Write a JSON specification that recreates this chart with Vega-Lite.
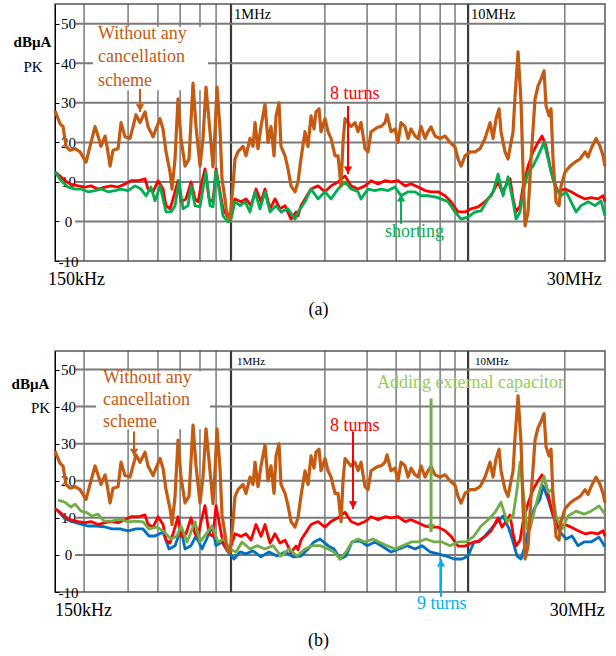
{
"$schema":"https://vega.github.io/schema/vega-lite/v6.json",
"background":"white",
"padding":{"left":10,"top":2,"right":5,"bottom":5},
"spacing":30,
"config":{"font":"Liberation Serif","text":{"font":"Liberation Serif"},"view":{"stroke":"#555555","strokeWidth":1.5},"axis":{"labelColor":"black","titleColor":"black","labelFont":"Liberation Serif","titleFont":"Liberation Serif"}},
"datasets":{
"vgrid":[{"f":0.24},{"f":0.368},{"f":0.492},{"f":0.61},{"f":0.74},{"f":0.865},{"f":1},{"f":2.49},{"f":3.75},{"f":4.97},{"f":6.27},{"f":7.62},{"f":8.81},{"f":10},{"f":25.6}],
"hgrid":[{"db":0},{"db":10},{"db":20},{"db":30},{"db":40},{"db":50}],
"brown":[{"f":0.1811,"db":28},{"f":0.1901,"db":24.7},{"f":0.1957,"db":24},{"f":0.2015,"db":19},{"f":0.2094,"db":18},{"f":0.2199,"db":18.4},{"f":0.2308,"db":17.6},{"f":0.2447,"db":15},{"f":0.2568,"db":20},{"f":0.267,"db":24},{"f":0.2749,"db":21.6},{"f":0.283,"db":19},{"f":0.2942,"db":21.6},{"f":0.3,"db":19},{"f":0.3089,"db":14},{"f":0.318,"db":18},{"f":0.3339,"db":18.4},{"f":0.3437,"db":25},{"f":0.3573,"db":21.4},{"f":0.3751,"db":21},{"f":0.3862,"db":24},{"f":0.3976,"db":27},{"f":0.4133,"db":25},{"f":0.4339,"db":27.7},{"f":0.4467,"db":24},{"f":0.469,"db":21.4},{"f":0.4828,"db":23.4},{"f":0.5019,"db":26},{"f":0.5168,"db":23.4},{"f":0.532,"db":17.6},{"f":0.5531,"db":12.5},{"f":0.564,"db":8.2},{"f":0.5807,"db":15.8},{"f":0.5978,"db":31},{"f":0.6154,"db":21},{"f":0.6398,"db":14},{"f":0.6652,"db":15.8},{"f":0.6916,"db":35},{"f":0.712,"db":24},{"f":0.7402,"db":14},{"f":0.762,"db":21},{"f":0.7845,"db":34},{"f":0.8156,"db":22.7},{"f":0.8397,"db":13.8},{"f":0.8562,"db":22.7},{"f":0.873,"db":34},{"f":0.8988,"db":23.4},{"f":0.9164,"db":10.8},{"f":0.9435,"db":5.7},{"f":0.962,"db":1.4},{"f":0.9904,"db":0.6},{"f":1.0197,"db":9},{"f":1.0397,"db":15.8},{"f":1.0704,"db":17.6},{"f":1.1237,"db":19},{"f":1.1569,"db":16.6},{"f":1.2027,"db":21},{"f":1.2384,"db":19},{"f":1.2627,"db":25},{"f":1.3,"db":18.4},{"f":1.3384,"db":24},{"f":1.3915,"db":29.7},{"f":1.4326,"db":20},{"f":1.475,"db":24},{"f":1.5187,"db":16.6},{"f":1.5485,"db":26.7},{"f":1.5943,"db":30},{"f":1.6255,"db":19},{"f":1.69,"db":16.6},{"f":1.74,"db":13.3},{"f":1.791,"db":9},{"f":1.8621,"db":7.5},{"f":1.9171,"db":10},{"f":1.974,"db":16},{"f":2.0524,"db":22.7},{"f":2.113,"db":19},{"f":2.175,"db":26.7},{"f":2.2394,"db":23.4},{"f":2.2833,"db":27.7},{"f":2.3509,"db":28.5},{"f":2.397,"db":22.7},{"f":2.4922,"db":26},{"f":2.5658,"db":22.7},{"f":2.642,"db":21},{"f":2.7469,"db":16.6},{"f":2.828,"db":16.6},{"f":2.911,"db":9},{"f":2.9683,"db":20},{"f":3.0266,"db":26},{"f":3.1159,"db":25},{"f":3.208,"db":24},{"f":3.3354,"db":25},{"f":3.4338,"db":22.7},{"f":3.535,"db":25},{"f":3.6754,"db":18.4},{"f":3.7839,"db":17.6},{"f":3.896,"db":22.7},{"f":4.0506,"db":23.4},{"f":4.1703,"db":23.9},{"f":4.293,"db":24},{"f":4.4635,"db":25},{"f":4.551,"db":27},{"f":4.731,"db":22.7},{"f":4.9189,"db":23.4},{"f":5.0641,"db":20},{"f":5.214,"db":25},{"f":5.421,"db":24},{"f":5.5811,"db":21},{"f":5.746,"db":23.4},{"f":5.9741,"db":21.6},{"f":6.1505,"db":21},{"f":6.332,"db":24},{"f":6.5834,"db":21},{"f":6.7778,"db":22.7},{"f":6.978,"db":23.9},{"f":7.255,"db":21.6},{"f":7.6158,"db":21},{"f":7.9953,"db":21.6},{"f":8.3929,"db":20},{"f":8.8104,"db":18.8},{"f":9.0706,"db":15.8},{"f":9.339,"db":14},{"f":9.7098,"db":16.6},{"f":10.193,"db":17.6},{"f":10.698,"db":17.6},{"f":11.231,"db":18.4},{"f":11.79,"db":21},{"f":12.377,"db":25},{"f":12.746,"db":21},{"f":13.123,"db":26},{"f":13.511,"db":28.5},{"f":13.77,"db":22.7},{"f":14.317,"db":17.6},{"f":14.74,"db":15.8},{"f":15.18,"db":20},{"f":15.479,"db":22.7},{"f":15.783,"db":31.8},{"f":16.249,"db":42.9},{"f":16.73,"db":30},{"f":17.06,"db":12.5},{"f":17.394,"db":-1.1},{"f":17.908,"db":2.4},{"f":18.43,"db":15.8},{"f":19.162,"db":31},{"f":19.727,"db":34.3},{"f":20.31,"db":36},{"f":20.911,"db":38.1},{"f":21.321,"db":29.2},{"f":21.953,"db":26.7},{"f":22.38,"db":28.5},{"f":22.821,"db":15.8},{"f":23.495,"db":5},{"f":24.191,"db":4},{"f":24.67,"db":9},{"f":25.65,"db":12.5},{"f":26.925,"db":14},{"f":28.259,"db":15},{"f":29.664,"db":15.8},{"f":31.149,"db":17.6},{"f":32.069,"db":16.3},{"f":33.01,"db":18.4},{"f":34.654,"db":21},{"f":36.027,"db":19},{"f":37.097,"db":16.6},{"f":37.8,"db":14}],
"red":[{"f":0.1811,"db":12.5},{"f":0.1901,"db":11.5},{"f":0.1995,"db":10.3},{"f":0.2094,"db":9.5},{"f":0.2264,"db":9},{"f":0.2424,"db":8.7},{"f":0.2568,"db":9},{"f":0.2749,"db":8.2},{"f":0.2942,"db":8.7},{"f":0.3119,"db":9},{"f":0.3339,"db":8.7},{"f":0.3573,"db":9.5},{"f":0.3787,"db":10.3},{"f":0.4054,"db":10.3},{"f":0.4339,"db":10.8},{"f":0.4467,"db":8.2},{"f":0.469,"db":7.5},{"f":0.4923,"db":10.3},{"f":0.5168,"db":8.2},{"f":0.532,"db":4},{"f":0.5531,"db":3.2},{"f":0.5695,"db":5.7},{"f":0.5978,"db":10.3},{"f":0.6154,"db":5},{"f":0.6461,"db":5.7},{"f":0.6782,"db":10},{"f":0.7051,"db":5.7},{"f":0.7259,"db":5},{"f":0.7473,"db":9},{"f":0.777,"db":13.3},{"f":0.8078,"db":5.7},{"f":0.8397,"db":5},{"f":0.8645,"db":13.3},{"f":0.8988,"db":7.5},{"f":0.9254,"db":3.2},{"f":0.962,"db":1.4},{"f":1.0,"db":2.4},{"f":1.0397,"db":5.7},{"f":1.102,"db":5},{"f":1.1569,"db":5.7},{"f":1.2145,"db":4},{"f":1.275,"db":8.2},{"f":1.3384,"db":5},{"f":1.3915,"db":8.2},{"f":1.4607,"db":3.2},{"f":1.5336,"db":5.7},{"f":1.6098,"db":3.2},{"f":1.69,"db":4},{"f":1.791,"db":0.6},{"f":1.8802,"db":2.4},{"f":1.9171,"db":1.4},{"f":1.974,"db":4},{"f":2.0524,"db":5.7},{"f":2.175,"db":8.2},{"f":2.3281,"db":9},{"f":2.4922,"db":7.5},{"f":2.642,"db":9},{"f":2.828,"db":10},{"f":3.0266,"db":11.5},{"f":3.208,"db":9},{"f":3.4338,"db":8.2},{"f":3.6754,"db":9},{"f":3.896,"db":10.3},{"f":4.1703,"db":9.5},{"f":4.4635,"db":10.3},{"f":4.731,"db":10},{"f":5.0641,"db":10.3},{"f":5.421,"db":9},{"f":5.746,"db":9.5},{"f":6.1505,"db":8.7},{"f":6.5834,"db":7.8},{"f":6.978,"db":7.5},{"f":7.4693,"db":7.5},{"f":7.9953,"db":6.5},{"f":8.474,"db":5},{"f":9.0706,"db":2.4},{"f":9.7098,"db":2.4},{"f":10.29,"db":3.2},{"f":11.015,"db":3.7},{"f":11.79,"db":5},{"f":12.5,"db":6.5},{"f":13.38,"db":10},{"f":13.905,"db":7.5},{"f":14.456,"db":9},{"f":15.029,"db":10.8},{"f":15.479,"db":5.7},{"f":15.936,"db":2.4},{"f":16.568,"db":4},{"f":17.06,"db":9},{"f":17.908,"db":14},{"f":18.793,"db":17.6},{"f":19.727,"db":20},{"f":20.509,"db":21.6},{"f":21.321,"db":19},{"f":22.167,"db":14},{"f":22.821,"db":10.8},{"f":23.956,"db":7.5},{"f":25.65,"db":8.2},{"f":27.18,"db":7.5},{"f":29.094,"db":6.5},{"f":31.149,"db":5.7},{"f":33.01,"db":6},{"f":35.333,"db":5.7},{"f":37.097,"db":6.5},{"f":37.8,"db":5}],
"green":[{"f":0.1811,"db":12.5},{"f":0.1919,"db":10.3},{"f":0.2054,"db":8.7},{"f":0.2199,"db":8.2},{"f":0.2331,"db":8.2},{"f":0.2495,"db":7.5},{"f":0.267,"db":7.8},{"f":0.283,"db":8.2},{"f":0.3029,"db":7.5},{"f":0.3243,"db":7.8},{"f":0.3437,"db":8.2},{"f":0.3679,"db":7.8},{"f":0.3937,"db":9},{"f":0.4173,"db":8.2},{"f":0.4381,"db":6.5},{"f":0.4599,"db":8.7},{"f":0.4782,"db":5.2},{"f":0.5019,"db":9},{"f":0.5168,"db":5.7},{"f":0.532,"db":2.4},{"f":0.5585,"db":2.4},{"f":0.5807,"db":4},{"f":0.6037,"db":10.3},{"f":0.6275,"db":3.2},{"f":0.6587,"db":4},{"f":0.6782,"db":9},{"f":0.7051,"db":4},{"f":0.7402,"db":3.7},{"f":0.762,"db":8.2},{"f":0.7845,"db":12.5},{"f":0.8156,"db":4},{"f":0.8397,"db":3.7},{"f":0.8645,"db":12.8},{"f":0.8988,"db":6.5},{"f":0.9254,"db":1.4},{"f":0.9714,"db":-0.1},{"f":1.0,"db":0.6},{"f":1.0397,"db":5},{"f":1.0914,"db":4},{"f":1.1458,"db":5},{"f":1.2027,"db":2.4},{"f":1.2627,"db":7.5},{"f":1.3255,"db":3.2},{"f":1.3915,"db":7.5},{"f":1.4607,"db":2.4},{"f":1.5485,"db":4},{"f":1.6255,"db":2.4},{"f":1.74,"db":3.2},{"f":1.8621,"db":0.6},{"f":1.9171,"db":2.4},{"f":2.0524,"db":5},{"f":2.175,"db":8.2},{"f":2.3281,"db":5.7},{"f":2.4922,"db":7.5},{"f":2.642,"db":5.7},{"f":2.828,"db":8.2},{"f":3.0266,"db":10},{"f":3.208,"db":8.2},{"f":3.4338,"db":7.5},{"f":3.535,"db":5.7},{"f":3.7839,"db":8.2},{"f":4.0506,"db":7.8},{"f":4.293,"db":8.2},{"f":4.5953,"db":7.8},{"f":4.9189,"db":8.7},{"f":5.214,"db":6.5},{"f":5.5811,"db":7.5},{"f":5.9741,"db":7.5},{"f":6.332,"db":6.5},{"f":6.7778,"db":6.5},{"f":7.255,"db":6.2},{"f":7.69,"db":5.7},{"f":8.2314,"db":5},{"f":8.8104,"db":2.4},{"f":9.339,"db":0.6},{"f":9.9966,"db":1.1},{"f":10.698,"db":2.4},{"f":11.34,"db":2.7},{"f":12.139,"db":5.7},{"f":12.746,"db":7.5},{"f":13.38,"db":12},{"f":14.041,"db":6.5},{"f":14.74,"db":11.3},{"f":15.479,"db":5},{"f":15.936,"db":0.6},{"f":16.568,"db":2.4},{"f":17.06,"db":7.5},{"f":17.908,"db":12.5},{"f":18.793,"db":14},{"f":19.727,"db":16.6},{"f":20.911,"db":20},{"f":21.74,"db":15.8},{"f":22.38,"db":12.5},{"f":23.495,"db":8.2},{"f":24.67,"db":6.5},{"f":25.899,"db":7.5},{"f":27.18,"db":5},{"f":28.534,"db":2.4},{"f":29.96,"db":4},{"f":32.069,"db":5},{"f":34.321,"db":4},{"f":36.38,"db":5.2},{"f":37.8,"db":1.4}],
"blue":[{"f":0.1865,"db":11.8},{"f":0.1995,"db":9.7},{"f":0.2157,"db":8.9},{"f":0.2331,"db":8.3},{"f":0.2495,"db":7.8},{"f":0.2696,"db":7.8},{"f":0.2914,"db":7.6},{"f":0.3149,"db":7},{"f":0.3404,"db":7},{"f":0.3679,"db":6.5},{"f":0.3976,"db":7},{"f":0.4255,"db":7},{"f":0.4511,"db":5.1},{"f":0.4782,"db":5.1},{"f":0.5168,"db":6.2},{"f":0.5478,"db":1.6},{"f":0.5807,"db":2.5},{"f":0.6154,"db":7},{"f":0.6398,"db":1.6},{"f":0.6782,"db":2.5},{"f":0.712,"db":5.1},{"f":0.7546,"db":1.6},{"f":0.7999,"db":5.1},{"f":0.8316,"db":7.8},{"f":0.8645,"db":2.5},{"f":0.9164,"db":3.5},{"f":0.9714,"db":0.8},{"f":1.0296,"db":-1.1},{"f":1.0914,"db":0.8},{"f":1.1569,"db":0.3},{"f":1.2384,"db":1.1},{"f":1.3384,"db":-0.5},{"f":1.4467,"db":0.8},{"f":1.5636,"db":-0.3},{"f":1.69,"db":0.8},{"f":1.8263,"db":-0.5},{"f":1.974,"db":-0.3},{"f":2.113,"db":1.6},{"f":2.2394,"db":3.5},{"f":2.3738,"db":4.3},{"f":2.5658,"db":2.5},{"f":2.7202,"db":1.6},{"f":2.8835,"db":-1.1},{"f":3.056,"db":-0.3},{"f":3.2394,"db":3.5},{"f":3.5012,"db":3.8},{"f":3.7474,"db":2.5},{"f":4.0506,"db":3.5},{"f":4.3776,"db":2.2},{"f":4.731,"db":0.8},{"f":5.1138,"db":1.6},{"f":5.5273,"db":2.5},{"f":5.9741,"db":1.6},{"f":6.394,"db":2.5},{"f":6.9108,"db":0.8},{"f":7.4693,"db":0.3},{"f":8.0729,"db":-0.3},{"f":8.7248,"db":-1.1},{"f":9.4305,"db":-1.1},{"f":9.9966,"db":-0.3},{"f":10.595,"db":3.5},{"f":11.122,"db":3.5},{"f":11.79,"db":5.1},{"f":12.5,"db":7},{"f":13.251,"db":8.9},{"f":14.041,"db":10.5},{"f":14.884,"db":7},{"f":15.479,"db":3.5},{"f":16.093,"db":-0.3},{"f":16.73,"db":-1.1},{"f":17.394,"db":2.5},{"f":18.084,"db":7.8},{"f":18.976,"db":12.4},{"f":20.115,"db":15.1},{"f":20.71,"db":18.6},{"f":21.74,"db":15.1},{"f":23.043,"db":9.7},{"f":24.426,"db":6.2},{"f":25.899,"db":4.3},{"f":27.446,"db":5.1},{"f":29.094,"db":2.5},{"f":30.847,"db":3.5},{"f":33.01,"db":3.5},{"f":35.681,"db":4.8},{"f":37.8,"db":2.2}],
"lgreen":[{"f":0.1865,"db":14.8},{"f":0.1995,"db":14.2},{"f":0.2115,"db":12.9},{"f":0.2199,"db":13.7},{"f":0.2331,"db":11.8},{"f":0.2447,"db":11.5},{"f":0.2593,"db":10.5},{"f":0.2749,"db":11},{"f":0.2914,"db":9.1},{"f":0.3149,"db":9.1},{"f":0.3404,"db":9.7},{"f":0.3679,"db":8.9},{"f":0.3976,"db":9.1},{"f":0.4255,"db":8.9},{"f":0.4511,"db":7},{"f":0.4875,"db":7.5},{"f":0.5168,"db":6.5},{"f":0.5585,"db":4.3},{"f":0.5921,"db":5.1},{"f":0.6154,"db":7.8},{"f":0.6524,"db":3.5},{"f":0.7051,"db":8.9},{"f":0.7402,"db":3.5},{"f":0.7845,"db":5.6},{"f":0.8316,"db":7.8},{"f":0.8815,"db":3.5},{"f":0.9344,"db":4.3},{"f":0.9904,"db":1.6},{"f":1.0498,"db":0.8},{"f":1.1128,"db":3.5},{"f":1.2027,"db":1.6},{"f":1.2875,"db":2.5},{"f":1.3915,"db":1.6},{"f":1.5041,"db":2.5},{"f":1.6255,"db":-0.3},{"f":1.757,"db":1.6},{"f":1.8986,"db":-0.3},{"f":2.0524,"db":1.6},{"f":2.1963,"db":2.5},{"f":2.3738,"db":2.5},{"f":2.5658,"db":1.6},{"f":2.7202,"db":0.8},{"f":2.8835,"db":-1.1},{"f":3.056,"db":0.8},{"f":3.2394,"db":3.5},{"f":3.4338,"db":4.3},{"f":3.6754,"db":3.5},{"f":3.9727,"db":4.3},{"f":4.2113,"db":3.5},{"f":4.551,"db":2.5},{"f":4.9189,"db":1.6},{"f":5.3167,"db":2.5},{"f":5.746,"db":3.5},{"f":6.1505,"db":3.5},{"f":6.6474,"db":4.3},{"f":7.1845,"db":3.5},{"f":7.7651,"db":3.5},{"f":8.3929,"db":2.5},{"f":9.0706,"db":3.5},{"f":9.8043,"db":3.5},{"f":10.595,"db":5.1},{"f":11.34,"db":7.8},{"f":12.257,"db":9.7},{"f":12.996,"db":11.5},{"f":13.77,"db":14.2},{"f":14.597,"db":8.9},{"f":15.479,"db":10.5},{"f":16.093,"db":17.7},{"f":16.568,"db":25},{"f":17.06,"db":17.7},{"f":17.735,"db":7},{"f":18.259,"db":7},{"f":18.976,"db":11.5},{"f":20.115,"db":17.7},{"f":20.911,"db":21.2},{"f":21.74,"db":16.9},{"f":22.599,"db":17.7},{"f":23.495,"db":10.5},{"f":24.911,"db":7},{"f":26.406,"db":10.5},{"f":28.534,"db":11.8},{"f":30.847,"db":11},{"f":33.01,"db":11.8},{"f":35.681,"db":13.2},{"f":37.8,"db":11}],
"notesA":[{"t":"Without any","f":0.2749,"db":47.5,"who":"brown","kind":"big"},{"t":"cancellation","f":0.2749,"db":41.6,"who":"brown","kind":"big"},{"t":"scheme","f":0.2749,"db":35.6,"who":"brown","kind":"big"},{"t":"8 turns","f":2.616,"db":32.3,"who":"red","kind":"big"},{"t":"shorting","f":4.4635,"db":-2.7,"who":"green","kind":"big"},{"t":"PK","f":0.1463,"db":39.1,"who":"black","kind":"pk"},{"t":"1MHz","f":1.0296,"db":52.3,"who":"black","kind":"mhz"},{"t":"10MHz","f":10.29,"db":52.3,"who":"black","kind":"mhz"}],
"notesB":[{"t":"Without any","f":0.2886,"db":47.6,"who":"brown","kind":"big"},{"t":"cancellation","f":0.2886,"db":41.7,"who":"brown","kind":"big"},{"t":"scheme","f":0.2886,"db":35.8,"who":"brown","kind":"big"},{"t":"Adding external capacitor","f":4.13,"db":46.5,"who":"lime","kind":"big"},{"t":"8 turns","f":2.616,"db":34.7,"who":"red","kind":"big"},{"t":"9 turns","f":6.09,"db":-13.2,"who":"blue","kind":"big"},{"t":"PK","f":0.1573,"db":39.5,"who":"black","kind":"pk"},{"t":"1MHz","f":1.0601,"db":51.9,"who":"black","kind":"mhz"},{"t":"10MHz","f":10.698,"db":51.9,"who":"black","kind":"mhz"}],
"arrowsA":[{"f":0.4133,"from":33.5,"to":27.7,"who":"brown"},{"f":3.1159,"from":29.2,"to":12.0,"who":"red"},{"f":5.214,"from":-0.6,"to":7.0,"who":"green"}],
"arrowsB":[{"f":0.3899,"from":33.3,"to":26.6,"who":"brown"},{"f":3.271,"from":33.3,"to":12.4,"who":"red"},{"f":6.978,"from":42.2,"to":6.2,"who":"lgreen"},{"f":7.69,"from":-11.3,"to":-1.1,"who":"blue"}]
},
"vconcat":[
{"width":550,"height":257,
"layer":[
{"data":{"name":"vgrid"},"mark":{"type":"rule","color":"#3a3a3a"},"encoding":{"x":{"field":"f","type":"quantitative","scale":{"type":"log","domain":[0.181,37.8],"nice":false},"axis":{"values":[0.2219,27.9],"labelExpr":"datum.value < 1 ? '150kHz' : '30MHz'","ticks":false,"domain":false,"grid":false,"labelFontSize":18,"labelPadding":9,"labelFlush":false,"labelOverlap":false,"title":"(a)","titleFontSize":18,"titleFontWeight":"normal","titlePadding":12,"titleX":263}},"strokeWidth":{"condition":{"test":"datum.f==1||datum.f==10","value":2.2},"value":1}}},
{"data":{"name":"hgrid"},"mark":{"type":"rule","color":"#7a7a7a","strokeWidth":2},"encoding":{"y":{"field":"db","type":"quantitative","scale":{"domain":[-10,55],"nice":false,"zero":false},"axis":{"values":[-10,0,10,20,30,40,50],"labelExpr":"'' + datum.value","grid":false,"domain":true,"domainColor":"black","domainWidth":1,"ticks":true,"tickSize":-4,"tickColor":"black","labelAlign":"center","labelBaseline":"middle","labelPadding":-9,"labelFontSize":15,"title":"dBµA","titleAngle":0,"titleFontWeight":"bold","titleFontSize":15,"titleX":-23,"titleY":37,"titleAlign":"center","titleBaseline":"middle"}},"x":{"datum":0.22,"type":"quantitative","scale":{"type":"log","domain":[0.181,37.8],"nice":false}},"x2":{"datum":37.8}}},
{"data":{"values":[{}]},"mark":{"type":"rect","color":"white"},"encoding":{"x":{"datum":0.262,"type":"quantitative","scale":{"type":"log","domain":[0.181,37.8],"nice":false}},"x2":{"datum":0.80},"y":{"datum":49.2,"type":"quantitative","scale":{"domain":[-10,55],"nice":false,"zero":false}},"y2":{"datum":33.2}}},
{"data":{"name":"red"},"mark":{"type":"line","color":"#FF0000","strokeWidth":2.8,"strokeJoin":"round"},"encoding":{"x":{"field":"f","type":"quantitative","scale":{"type":"log","domain":[0.181,37.8],"nice":false}},"y":{"field":"db","type":"quantitative","scale":{"domain":[-10,55],"nice":false,"zero":false}}}},
{"data":{"name":"green"},"mark":{"type":"line","color":"#00B050","strokeWidth":2.8,"strokeJoin":"round"},"encoding":{"x":{"field":"f","type":"quantitative","scale":{"type":"log","domain":[0.181,37.8],"nice":false}},"y":{"field":"db","type":"quantitative","scale":{"domain":[-10,55],"nice":false,"zero":false}}}},
{"data":{"name":"brown"},"mark":{"type":"line","color":"#C55A11","strokeWidth":3.2,"strokeJoin":"round"},"encoding":{"x":{"field":"f","type":"quantitative","scale":{"type":"log","domain":[0.181,37.8],"nice":false}},"y":{"field":"db","type":"quantitative","scale":{"domain":[-10,55],"nice":false,"zero":false}}}},
{"data":{"name":"arrowsA"},"mark":{"type":"rule","strokeWidth":2},"encoding":{"x":{"field":"f","type":"quantitative","scale":{"type":"log","domain":[0.181,37.8],"nice":false}},"y":{"field":"from","type":"quantitative","scale":{"domain":[-10,55],"nice":false,"zero":false}},"y2":{"field":"to"},"color":{"field":"who","type":"nominal","scale":{"domain":["brown","red","green","blue","lime","lgreen","black"],"range":["#C55A11","#FF0000","#00B050","#00B0F0","#92D050","#70AD47","#000000"]},"legend":null}}},
{"data":{"name":"arrowsA"},"transform":[{"filter":"datum.to < datum.from"}],"mark":{"type":"point","shape":"triangle-down","filled":true,"size":70,"opacity":1,"yOffset":-4},"encoding":{"x":{"field":"f","type":"quantitative","scale":{"type":"log","domain":[0.181,37.8],"nice":false}},"y":{"field":"to","type":"quantitative","scale":{"domain":[-10,55],"nice":false,"zero":false}},"color":{"field":"who","type":"nominal","scale":{"domain":["brown","red","green","blue","lime","lgreen","black"],"range":["#C55A11","#FF0000","#00B050","#00B0F0","#92D050","#70AD47","#000000"]},"legend":null}}},
{"data":{"name":"arrowsA"},"transform":[{"filter":"datum.to > datum.from"}],"mark":{"type":"point","shape":"triangle-up","filled":true,"size":70,"opacity":1,"yOffset":4},"encoding":{"x":{"field":"f","type":"quantitative","scale":{"type":"log","domain":[0.181,37.8],"nice":false}},"y":{"field":"to","type":"quantitative","scale":{"domain":[-10,55],"nice":false,"zero":false}},"color":{"field":"who","type":"nominal","scale":{"domain":["brown","red","green","blue","lime","lgreen","black"],"range":["#C55A11","#FF0000","#00B050","#00B0F0","#92D050","#70AD47","#000000"]},"legend":null}}},
{"data":{"name":"notesA"},"transform":[{"filter":"datum.kind == 'big'"}],"mark":{"type":"text","align":"left","baseline":"middle","fontSize":18,"font":"Liberation Serif"},"encoding":{"x":{"field":"f","type":"quantitative","scale":{"type":"log","domain":[0.181,37.8],"nice":false}},"y":{"field":"db","type":"quantitative","scale":{"domain":[-10,55],"nice":false,"zero":false}},"text":{"field":"t"},"color":{"field":"who","type":"nominal","scale":{"domain":["brown","red","green","blue","lime","lgreen","black"],"range":["#C55A11","#FF0000","#00B050","#00B0F0","#92D050","#70AD47","#000000"]},"legend":null}}},
{"data":{"name":"notesA"},"transform":[{"filter":"datum.kind == 'pk'"}],"mark":{"type":"text","align":"center","baseline":"middle","fontSize":15,"color":"black","font":"Liberation Serif"},"encoding":{"x":{"field":"f","type":"quantitative","scale":{"type":"log","domain":[0.181,37.8],"nice":false}},"y":{"field":"db","type":"quantitative","scale":{"domain":[-10,55],"nice":false,"zero":false}},"text":{"field":"t"}}},
{"data":{"name":"notesA"},"transform":[{"filter":"datum.kind == 'mhz'"}],"mark":{"type":"text","align":"left","baseline":"middle","fontSize":14.5,"color":"black","font":"Liberation Serif"},"encoding":{"x":{"field":"f","type":"quantitative","scale":{"type":"log","domain":[0.181,37.8],"nice":false}},"y":{"field":"db","type":"quantitative","scale":{"domain":[-10,55],"nice":false,"zero":false}},"text":{"field":"t"}}}
]},
{"width":550,"height":241,
"layer":[
{"data":{"name":"vgrid"},"mark":{"type":"rule","color":"#3a3a3a"},"encoding":{"x":{"field":"f","type":"quantitative","scale":{"type":"log","domain":[0.181,37.8],"nice":false},"axis":{"values":[0.2376,28.7],"labelExpr":"datum.value < 1 ? '150kHz' : '30MHz'","ticks":false,"domain":false,"grid":false,"labelFontSize":18,"labelPadding":9,"labelFlush":false,"labelOverlap":false,"title":"(b)","titleFontSize":18,"titleFontWeight":"normal","titlePadding":12,"titleX":263}},"strokeWidth":{"condition":{"test":"datum.f==1||datum.f==10","value":2.2},"value":1}}},
{"data":{"name":"hgrid"},"mark":{"type":"rule","color":"#7a7a7a","strokeWidth":2},"encoding":{"y":{"field":"db","type":"quantitative","scale":{"domain":[-10,55],"nice":false,"zero":false},"axis":{"values":[-10,0,10,20,30,40,50],"labelExpr":"'' + datum.value","grid":false,"domain":true,"domainColor":"black","domainWidth":1,"ticks":true,"tickSize":-4,"tickColor":"black","labelAlign":"center","labelBaseline":"middle","labelPadding":-9,"labelFontSize":15,"title":"dBµA","titleAngle":0,"titleFontWeight":"bold","titleFontSize":15,"titleX":-25,"titleY":32,"titleAlign":"center","titleBaseline":"middle"}},"x":{"datum":0.22,"type":"quantitative","scale":{"type":"log","domain":[0.181,37.8],"nice":false}},"x2":{"datum":37.8}}},
{"data":{"values":[{}]},"mark":{"type":"rect","color":"white"},"encoding":{"x":{"datum":0.2696,"type":"quantitative","scale":{"type":"log","domain":[0.181,37.8],"nice":false}},"x2":{"datum":0.8156},"y":{"datum":49.5,"type":"quantitative","scale":{"domain":[-10,55],"nice":false,"zero":false}},"y2":{"datum":33.9}}},
{"data":{"name":"blue"},"mark":{"type":"line","color":"#0070C0","strokeWidth":2.8,"strokeJoin":"round"},"encoding":{"x":{"field":"f","type":"quantitative","scale":{"type":"log","domain":[0.181,37.8],"nice":false}},"y":{"field":"db","type":"quantitative","scale":{"domain":[-10,55],"nice":false,"zero":false}}}},
{"data":{"name":"red"},"mark":{"type":"line","color":"#FF0000","strokeWidth":2.8,"strokeJoin":"round"},"encoding":{"x":{"field":"f","type":"quantitative","scale":{"type":"log","domain":[0.181,37.8],"nice":false}},"y":{"field":"db","type":"quantitative","scale":{"domain":[-10,55],"nice":false,"zero":false}}}},
{"data":{"name":"lgreen"},"mark":{"type":"line","color":"#70AD47","strokeWidth":2.8,"strokeJoin":"round"},"encoding":{"x":{"field":"f","type":"quantitative","scale":{"type":"log","domain":[0.181,37.8],"nice":false}},"y":{"field":"db","type":"quantitative","scale":{"domain":[-10,55],"nice":false,"zero":false}}}},
{"data":{"name":"brown"},"mark":{"type":"line","color":"#C55A11","strokeWidth":3.2,"strokeJoin":"round"},"encoding":{"x":{"field":"f","type":"quantitative","scale":{"type":"log","domain":[0.181,37.8],"nice":false}},"y":{"field":"db","type":"quantitative","scale":{"domain":[-10,55],"nice":false,"zero":false}}}},
{"data":{"name":"arrowsB"},"mark":{"type":"rule"},"encoding":{"x":{"field":"f","type":"quantitative","scale":{"type":"log","domain":[0.181,37.8],"nice":false}},"y":{"field":"from","type":"quantitative","scale":{"domain":[-10,55],"nice":false,"zero":false}},"y2":{"field":"to"},"strokeWidth":{"condition":{"test":"datum.who=='lgreen'","value":3},"value":2},"color":{"field":"who","type":"nominal","scale":{"domain":["brown","red","green","blue","lime","lgreen","black"],"range":["#C55A11","#FF0000","#00B050","#00B0F0","#92D050","#70AD47","#000000"]},"legend":null}}},
{"data":{"name":"arrowsB"},"transform":[{"filter":"datum.to < datum.from"}],"mark":{"type":"point","shape":"triangle-down","filled":true,"size":70,"opacity":1,"yOffset":-4},"encoding":{"x":{"field":"f","type":"quantitative","scale":{"type":"log","domain":[0.181,37.8],"nice":false}},"y":{"field":"to","type":"quantitative","scale":{"domain":[-10,55],"nice":false,"zero":false}},"color":{"field":"who","type":"nominal","scale":{"domain":["brown","red","green","blue","lime","lgreen","black"],"range":["#C55A11","#FF0000","#00B050","#00B0F0","#92D050","#70AD47","#000000"]},"legend":null}}},
{"data":{"name":"arrowsB"},"transform":[{"filter":"datum.to > datum.from"}],"mark":{"type":"point","shape":"triangle-up","filled":true,"size":70,"opacity":1,"yOffset":4},"encoding":{"x":{"field":"f","type":"quantitative","scale":{"type":"log","domain":[0.181,37.8],"nice":false}},"y":{"field":"to","type":"quantitative","scale":{"domain":[-10,55],"nice":false,"zero":false}},"color":{"field":"who","type":"nominal","scale":{"domain":["brown","red","green","blue","lime","lgreen","black"],"range":["#C55A11","#FF0000","#00B050","#00B0F0","#92D050","#70AD47","#000000"]},"legend":null}}},
{"data":{"name":"notesB"},"transform":[{"filter":"datum.kind == 'big'"}],"mark":{"type":"text","align":"left","baseline":"middle","fontSize":18,"font":"Liberation Serif"},"encoding":{"x":{"field":"f","type":"quantitative","scale":{"type":"log","domain":[0.181,37.8],"nice":false}},"y":{"field":"db","type":"quantitative","scale":{"domain":[-10,55],"nice":false,"zero":false}},"text":{"field":"t"},"color":{"field":"who","type":"nominal","scale":{"domain":["brown","red","green","blue","lime","lgreen","black"],"range":["#C55A11","#FF0000","#00B050","#00B0F0","#92D050","#70AD47","#000000"]},"legend":null}}},
{"data":{"name":"notesB"},"transform":[{"filter":"datum.kind == 'pk'"}],"mark":{"type":"text","align":"center","baseline":"middle","fontSize":15,"color":"black","font":"Liberation Serif"},"encoding":{"x":{"field":"f","type":"quantitative","scale":{"type":"log","domain":[0.181,37.8],"nice":false}},"y":{"field":"db","type":"quantitative","scale":{"domain":[-10,55],"nice":false,"zero":false}},"text":{"field":"t"}}},
{"data":{"name":"notesB"},"transform":[{"filter":"datum.kind == 'mhz'"}],"mark":{"type":"text","align":"left","baseline":"middle","fontSize":11,"color":"black","font":"Liberation Serif"},"encoding":{"x":{"field":"f","type":"quantitative","scale":{"type":"log","domain":[0.181,37.8],"nice":false}},"y":{"field":"db","type":"quantitative","scale":{"domain":[-10,55],"nice":false,"zero":false}},"text":{"field":"t"}}}
]}
]
}
